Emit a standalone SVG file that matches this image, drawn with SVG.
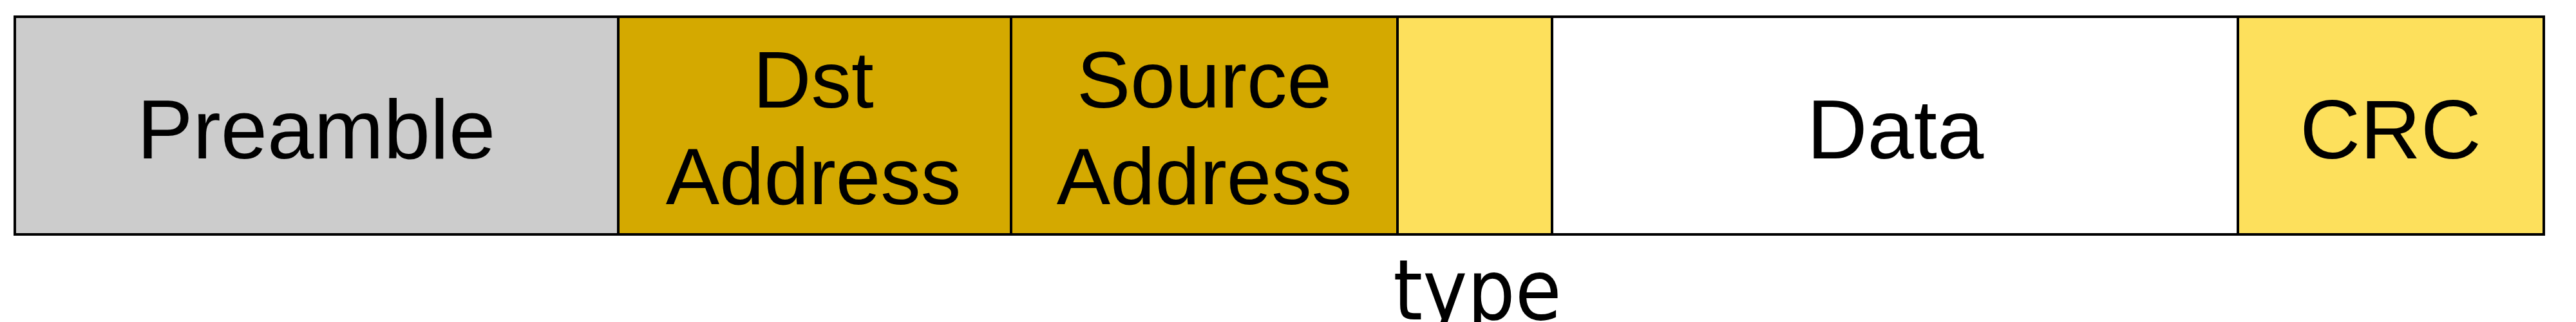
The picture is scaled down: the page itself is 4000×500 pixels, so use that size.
<svg xmlns="http://www.w3.org/2000/svg" width="4000" height="500" viewBox="0 0 4000 500">
<style>
.cell{stroke:#000;stroke-width:4}
.lbl{font-family:"Liberation Sans",Arial,sans-serif;font-size:130px;fill:#000;text-anchor:middle}
.lbl2{font-family:"Liberation Sans",Arial,sans-serif;font-size:125px;fill:#000;text-anchor:middle}
.type{font-family:"DejaVu Sans Condensed","DejaVu Sans",sans-serif;font-stretch:condensed;font-size:130px;fill:#000;text-anchor:middle}
</style>
<rect width="4000" height="500" fill="#fff"/>
<g id="preamble"><rect class="cell" x="23" y="26" width="937" height="338" fill="#CCCCCC"/><text class="lbl" x="491" y="246">Preamble</text></g>
<g id="dst"><rect class="cell" x="960" y="26" width="610" height="338" fill="#D4A900"/><text class="lbl2" x="1263" y="167">Dst</text><text class="lbl2" x="1263" y="317">Address</text></g>
<g id="src"><rect class="cell" x="1570" y="26" width="600" height="338" fill="#D4A900"/><text class="lbl2" x="1870" y="167">Source</text><text class="lbl2" x="1870" y="317">Address</text></g>
<g id="type"><rect class="cell" x="2170" y="26" width="240" height="338" fill="#FDE05C"/><text class="type" x="2294" y="496">type</text></g>
<g id="data"><rect class="cell" x="2410" y="26" width="1065" height="338" fill="#FFFFFF"/><text class="lbl" x="2943" y="246">Data</text></g>
<g id="crc"><rect class="cell" x="3475" y="26" width="475" height="338" fill="#FDE05C"/><text class="lbl" x="3712" y="246">CRC</text></g>
<g id="connectors"></g>
</svg>
